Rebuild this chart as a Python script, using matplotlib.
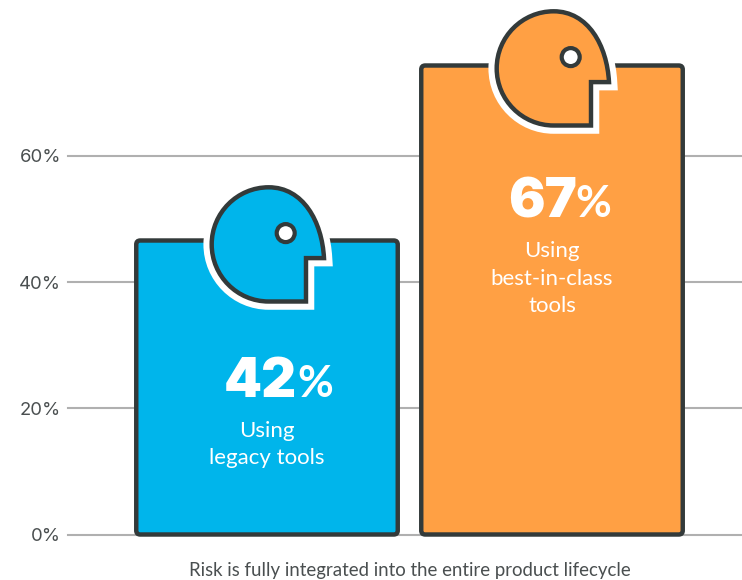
import numpy as np
import matplotlib
matplotlib.use('Agg')
import matplotlib.pyplot as plt
from matplotlib.patches import FancyBboxPatch, PathPatch, Circle
from matplotlib.path import Path
from matplotlib.transforms import Affine2D

#---DATA---------------------------------------------------------------------
values = [42, 67]
first_lines = ['Using', 'Using']
tool_labels = [['legacy tools'], ['best-in-class', 'tools']]
bar_colors = ['#00B5EB', '#FFA044']
tick_values = [0, 20, 40, 60]
tick_labels = ['0%', '20%', '40%', '60%']
caption = 'Risk is fully integrated into the entire product lifecycle'

dark = '#333A3A'
grey_text = '#4A4F50'

#---LAYOUT-------------------------------------------------------------------
W, H = 742, 580
zero_y = 534.5      # pixel row of the baseline, from the top
left_px = 68
bar_step = 285.0    # pixels between bar centres
first_bar = 267.0
px_per_value = 7.0  # bars are taller than the gridline scale
px_per_tick = 6.31
text_shift = [0, 4.5]  # the taller bar has its text a bit closer to the top
head_shift = [-0.8, 0.2]
number_x = [29.5, 25]
percent_x = [30, 23]

fig = plt.figure(figsize=(W/100, H/100), dpi=100)
ax = fig.add_axes([left_px/W, 1-zero_y/H, 1-left_px/W, zero_y/H])
ax.set_xlim((left_px-first_bar)/bar_step, (W-first_bar)/bar_step)
ax.set_ylim(0, zero_y/px_per_value)
for s in ax.spines.values():
    s.set_visible(False)
ax.patch.set_alpha(0)

#Gridlines run on their own scale, tick_scale converts them to bar units
tick_scale = px_per_tick/px_per_value
ax.set_xticks([])
ax.set_yticks(np.array(tick_values)*tick_scale)
ax.set_yticklabels(tick_labels, family='Inter', fontsize=13.3, color=grey_text)
ax.tick_params(axis='y', length=0, pad=5)
ax.grid(axis='y', color='#B0B0B0', lw=1.5, zorder=0)
ax.set_axisbelow(True)
for line in ax.get_ygridlines():
    line.set_clip_on(False)

#---HEAD SHAPE (pixels, y down, relative to bar centre and bar top)----------
k = 31.5
head_verts = [(39, 60.2), (39, 16.8), (57, 16.8),
              (55, -20), (36, -54), (1.7, -54),
              (1.7-k, -54), (-55.3, 3.1-k), (-55.3, 3.1),
              (-55.3, 3.1+k), (1.7-k, 60.2), (1.7, 60.2),
              (39, 60.2), (39, 60.2)]
head_codes = [Path.MOVETO, Path.LINETO, Path.LINETO,
              Path.CURVE4, Path.CURVE4, Path.CURVE4,
              Path.CURVE4, Path.CURVE4, Path.CURVE4,
              Path.CURVE4, Path.CURVE4, Path.CURVE4,
              Path.LINETO, Path.CLOSEPOLY]
head_path = Path(head_verts, head_codes)

def draw_head(x, value, color, lift):
    px, py = ax.transData.transform((x, value))
    tr = Affine2D().scale(1, -1).translate(px, py+lift)
    ax.add_patch(PathPatch(head_path, transform=tr, fc='none', ec='white', lw=11.9,
                           joinstyle='miter', zorder=4, clip_on=False))
    ax.add_patch(PathPatch(head_path, transform=tr, fc=color, ec=dark, lw=3.2,
                           joinstyle='miter', zorder=5, clip_on=False))
    ax.add_patch(Circle((18.7, -8.2), 9, transform=tr, fc='white', ec=dark, lw=3.0,
                        zorder=6, clip_on=False))

#---BARS---------------------------------------------------------------------
bar_width = 261.5/bar_step
for i, v in enumerate(values):
    bar = FancyBboxPatch((i-bar_width/2, 0), bar_width, v,
                         boxstyle='round,pad=0,rounding_size=%f' % (4/bar_step),
                         mutation_aspect=bar_step/px_per_value,
                         fc=bar_colors[i], ec=dark, lw=3.2, zorder=3, clip_on=False)
    ax.add_patch(bar)
    draw_head(i, v, bar_colors[i], head_shift[i])
    up = text_shift[i]

    #Big number with a lighter percent sign
    ax.annotate(str(v), xy=(i, v), xytext=(number_x[i], -156+up), textcoords='offset pixels',
                ha='right', va='baseline', family='Inter', fontweight='black',
                fontsize=39, color='white', zorder=7)
    ax.annotate('%', xy=(i, v), xytext=(percent_x[i], -156+up), textcoords='offset pixels',
                ha='left', va='baseline', family='Lato', fontweight='bold',
                fontsize=31.5, color='white', zorder=7)

    #Small label lines under the number
    lines = [first_lines[i]] + tool_labels[i]
    for j, txt in enumerate(lines):
        ax.annotate(txt, xy=(i, v), xytext=(0, -196+up-27.5*j), textcoords='offset pixels',
                    ha='center', va='baseline', family='Lato', fontsize=16,
                    color='white', zorder=7)

fig.text(410/W, 1-576/H, caption, ha='center', va='baseline', family='Lato',
         fontsize=13.45, color=grey_text)

fig.savefig('out.png', dpi=100)
